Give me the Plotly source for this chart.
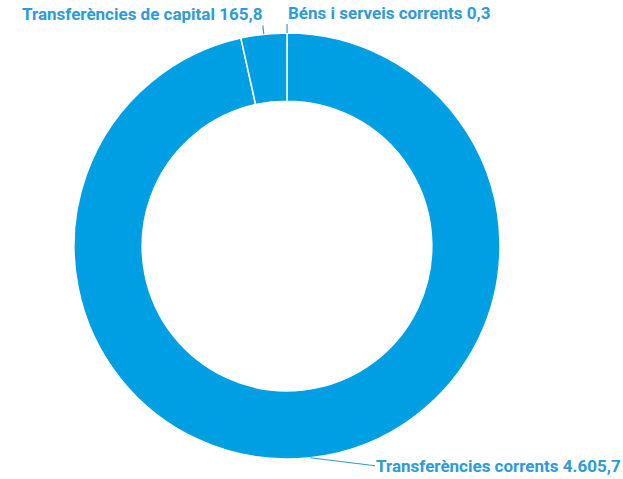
import math
import plotly.graph_objects as go

# Data (milions d'euros)
labels = ["Béns i serveis corrents", "Transferències corrents", "Transferències de capital"]
values = [0.3, 4605.7, 165.8]
value_text = ["0,3", "4.605,7", "165,8"]

BLUE = "#009fe3"
TEXT_BLUE = "#2f9ad8"

W, H = 623, 479
margin = dict(l=0, r=49, t=33, b=20)
plot_w = W - margin["l"] - margin["r"]
plot_h = H - margin["t"] - margin["b"]
radius_px = min(plot_w, plot_h) / 2

fig = go.Figure(
    go.Pie(
        labels=labels,
        values=values,
        hole=0.68,
        sort=False,
        direction="clockwise",
        rotation=0,
        textinfo="none",
        hoverinfo="label+value",
        marker=dict(colors=[BLUE] * len(values), line=dict(color="white", width=1.5)),
        showlegend=False,
    )
)

# label placement (text offsets in pixels from the slice edge)
label_style = [
    dict(ax=0, ay=-9, xanchor="left", yanchor="bottom"),
    dict(ax=65, ay=8, xanchor="left", yanchor="middle"),
    dict(ax=-1, ay=-9, xanchor="right", yanchor="bottom"),
]

total = sum(values)
cum = 0.0
for lab, val, txt, st in zip(labels, values, value_text, label_style):
    mid = (cum + val / 2) / total * 2 * math.pi
    cum += val
    # point on the outer edge of the slice, in paper coords
    px = 0.5 + radius_px * math.sin(mid) / plot_w
    py = 0.5 + radius_px * math.cos(mid) / plot_h
    fig.add_annotation(
        x=px, y=py, xref="paper", yref="paper",
        text=f"{lab} {txt}",
        showarrow=True, arrowhead=0, arrowwidth=1.2, arrowcolor=TEXT_BLUE,
        ax=st["ax"], ay=st["ay"], xanchor=st["xanchor"], yanchor=st["yanchor"],
        borderpad=0,
        font=dict(family="Roboto", size=17, color=TEXT_BLUE, weight="bold"),
    )

fig.update_layout(
    width=W, height=H,
    margin=margin,
    paper_bgcolor="white",
    plot_bgcolor="white",
)

# drop the default 8px page margin so the figure fills the window
fig.write_html(
    "out.html",
    config={"displayModeBar": False},
    post_script="document.body.style.margin = '0';",
)
